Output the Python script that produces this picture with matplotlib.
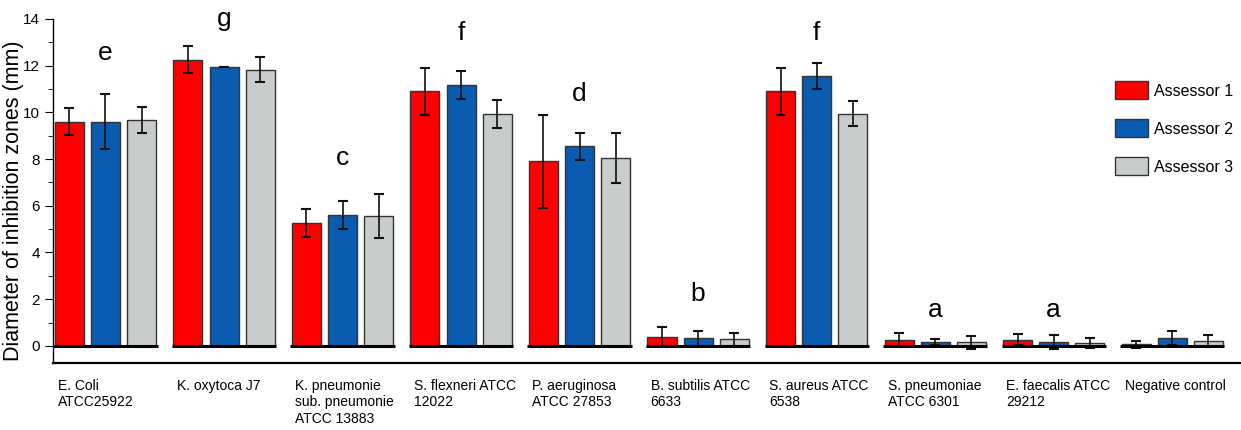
import numpy as np
import matplotlib.pyplot as plt
from matplotlib.ticker import MultipleLocator

strains = ["E. Coli\nATCC25922", "K. oxytoca J7", "K. pneumonie\nsub. pneumonie\nATCC 13883",
           "S. flexneri ATCC\n12022", "P. aeruginosa\nATCC 27853", "B. subtilis ATCC\n6633",
           "S. aureus ATCC\n6538", "S. pneumoniae\nATCC 6301", "E. faecalis ATCC\n29212",
           "Negative control"]
letters = ["e", "g", "c", "f", "d", "b", "f", "a", "a", ""]
letter_y = [12.25, 13.7, 7.75, 13.1, 10.5, 1.9, 13.1, 1.25, 1.25, 0]

a1 = [9.6, 12.25, 5.28, 10.9, 7.9, 0.4, 10.9, 0.27, 0.27, 0.06]
a1_err = [0.58, 0.57, 0.6, 1.0, 2.0, 0.4, 1.0, 0.26, 0.25, 0.14]
a2 = [9.6, 11.92, 5.6, 11.17, 8.55, 0.32, 11.55, 0.17, 0.17, 0.34]
a2_err = [1.17, 0.0, 0.6, 0.6, 0.58, 0.31, 0.57, 0.14, 0.3, 0.29]
a3 = [9.67, 11.82, 5.55, 9.93, 8.03, 0.29, 9.95, 0.15, 0.13, 0.2]
a3_err = [0.55, 0.53, 0.95, 0.6, 1.07, 0.28, 0.55, 0.28, 0.2, 0.25]

series = [("Assessor 1", a1, a1_err, "#ff0000"),
          ("Assessor 2", a2, a2_err, "#0a5cb0"),
          ("Assessor 3", a3, a3_err, "#c8ccca")]

font = ["Liberation Sans", "DejaVu Sans"]

fig = plt.figure(figsize=(12.41, 4.30), dpi=100)
ax = fig.add_axes([0.0427, 0.156, 0.9573, 0.8])

x = np.arange(len(strains))
step = 0.305
w = 0.245
for k, (name, vals, errs, col) in enumerate(series):
    ax.bar(x + (k - 1) * step, vals, w, color=col, edgecolor="#333333", linewidth=1.0,
           label=name, zorder=2)
    ax.errorbar(x + (k - 1) * step, vals, yerr=errs, fmt="none", ecolor="#111111",
                elinewidth=1.2, capsize=3.5, capthick=1.5, zorder=3)

# black baseline under each group
ax.hlines(np.zeros(len(x)), x - 0.44, x + 0.44, color="black", linewidth=2.2, zorder=4)

for i, s in enumerate(strains):
    ax.text(x[i], letter_y[i], letters[i], ha="center", va="baseline",
            fontsize=19, family=font)
    ax.text(x[i] - 0.40, -1.4, s, ha="left", va="top", fontsize=10,
            family=font, linespacing=1.25, multialignment="left")

ax.set_xlim(-0.443, 9.58)
ax.set_ylim(-0.73, 14)
ax.spines["top"].set_visible(False)
ax.spines["right"].set_visible(False)
ax.spines["bottom"].set_linewidth(1.6)
ax.spines["left"].set_linewidth(1.0)
ax.set_xticks([])
ax.yaxis.set_major_locator(MultipleLocator(2))
ax.yaxis.set_minor_locator(MultipleLocator(1))
ax.tick_params(axis="y", which="major", length=6, labelsize=11)
ax.tick_params(axis="y", which="minor", length=3.5)
for lab in ax.get_yticklabels():
    lab.set_family(font)
ax.set_ylabel("Diameter of inhibition zones (mm)", fontsize=15.5, family=font)
ax.yaxis.set_label_coords(-0.0245, 0.47)

ax.legend(loc="upper left", bbox_to_anchor=(0.8815, 0.86), frameon=False,
          prop={"family": font, "size": 11.5}, handlelength=2.1, handleheight=1.35,
          labelspacing=1.25, handletextpad=0.35)

fig.savefig("out.png", dpi=100)
